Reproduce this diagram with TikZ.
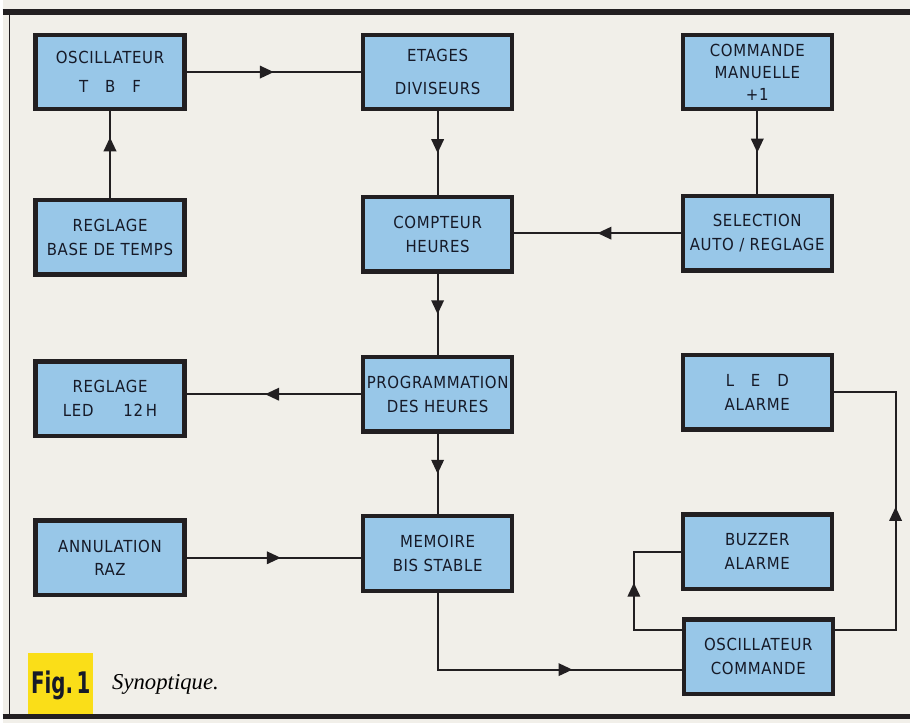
\documentclass[tikz,border=0pt]{standalone}
\usepackage{fontspec}
\usetikzlibrary{arrows.meta,decorations.markings}
\setmainfont{Liberation Serif}
\newfontfamily\blockfont[LetterSpace=4]{DejaVu Sans Condensed}
\newfontfamily\fignofont{DejaVu Sans Condensed}

\definecolor{paper}{RGB}{241,239,233}
\definecolor{boxblue}{RGB}{152,199,232}
\definecolor{ink}{RGB}{34,31,33}
\definecolor{lettering}{RGB}{22,26,40}
\definecolor{figyellow}{RGB}{250,222,24}

\begin{document}
\begin{tikzpicture}[align=center,
  block/.style={draw=ink, line width=2.4pt, fill=boxblue, minimum width=3cm,
    minimum height=1.5cm, inner xsep=1pt, text=lettering,
    font=\blockfont\fontsize{9.5}{13.6}\selectfont},
  wire/.style={draw=ink, line width=1.2pt},
  flow/.style={postaction={decorate, decoration={markings,
    mark=at position #1 with {\arrow{Triangle[length=2.8mm,width=2.5mm]}}}}},
  flow/.default=0.5]
\fill[paper] (0,0) rectangle (18.26,14.54);

% figure number and caption
\node[fill=figyellow, minimum width=1.3cm, minimum height=1.28cm, inner sep=0pt,
  text=lettering, font=\fignofont\bfseries\fontsize{17}{17}\selectfont] (figno) at (1.17,0.76) {\scalebox{0.74}[1]{Fig.\,1}};
\node[anchor=west, font=\itshape\fontsize{13}{13}\selectfont] (caption) at (2.08,0.78) {Synoptique.};

% frame
\draw[ink, line width=3pt] (0,14.3) -- (18.26,14.3);
\draw[ink, line width=3pt] (0,0.12) -- (18.26,0.12);
\draw[ink, line width=0.9pt] (0.14,14.3) -- (0.14,0.12);

% left column
\node[block] (osc) at (2.16,13.09) {OSCILLATEUR\\[0.1cm]T\hspace{3.4mm}B\hspace{3.4mm}F};
\node[block] (regl) at (2.16,9.77) {REGLAGE\\BASE DE TEMPS};
\node[block] (led12) at (2.16,6.52) {REGLAGE\\LED\hspace{6mm}12\,H};
\node[block] (raz) at (2.16,3.32) {ANNULATION\\RAZ};

% middle column
\node[block] (div) at (8.75,13.09) {ETAGES\\[0.18cm]DIVISEURS};
\node[block] (cpt) at (8.75,9.83) {COMPTEUR\\HEURES};
\node[block] (prog) at (8.75,6.61) {PROGRAMMATION\\DES HEURES};
\node[block] (mem) at (8.75,3.41) {MEMOIRE\\BIS STABLE};

% right column
\node[block, font=\blockfont\fontsize{9.5}{12.5}\selectfont] (cmd) at (15.18,13.09) {COMMANDE\\MANUELLE\\+1};
\node[block] (sel) at (15.18,9.85) {SELECTION\\AUTO / REGLAGE};
\node[block] (leda) at (15.18,6.65) {L\hspace{3.4mm}E\hspace{3.4mm}D\\ALARME};
\node[block] (buz) at (15.18,3.44) {BUZZER\\ALARME};
\node[block] (osccmd) at (15.2,1.33) {OSCILLATEUR\\COMMANDE};

% links
\draw[wire, flow] (osc) -- (div);
\draw[wire, flow=0.7] (regl) -- (osc);
\draw[wire, flow] (div) -- (cpt);
\draw[wire, flow] (cmd) -- (sel);
\draw[wire, flow] (sel.west) -- (sel.west -| cpt.east);
\draw[wire, flow] (cpt) -- (prog);
\draw[wire, flow=0.55] (prog.west) -- (prog.west -| led12.east);
\draw[wire, flow] (prog) -- (mem);
\draw[wire, flow=0.54] (raz.east) -- (raz.east -| mem.west);
\draw[wire, flow=0.66] (mem.south) |- ([yshift=-0.26cm]osccmd.west);
\draw[wire, flow=0.55] ([yshift=0.54cm]osccmd.west) -- ++(-0.96,0) |- (buz.west);
\draw[wire, flow=0.51] ([yshift=0.54cm]osccmd.east) -- ++(1.22,0) |- (leda.east);
\end{tikzpicture}
\end{document}
